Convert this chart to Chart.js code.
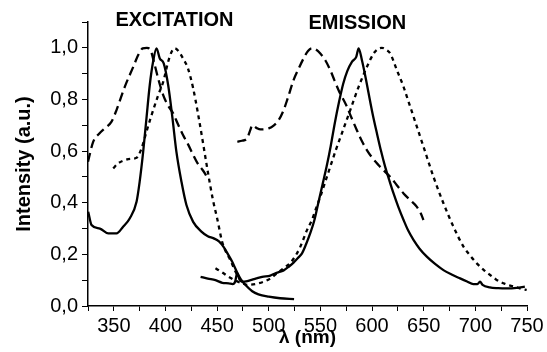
<!DOCTYPE html>
<html>
<head>
<meta charset="utf-8">
<script src="https://cdn.jsdelivr.net/npm/chart.js@4"></script>
<style>
  html, body { margin: 0; padding: 0; background: #fff; }
  #wrap { width: 547px; height: 352px; position: relative; }
</style>
</head>
<body>
<div id="wrap"><canvas id="spectra"></canvas></div>
<script>
// Excitation spectra (wavelength in nm, normalised intensity)
var exSolidNm = [325.2, 328.4, 336.5, 344.6, 352.6, 359, 365.5, 372, 375, 378.4, 381.6, 384.8, 388, 391.3, 394.5, 398.3, 402.6, 406.8, 410.6, 415.5, 420.3, 426.8, 434.8, 441, 446.7, 451.8, 456.4, 461.3, 464.5, 469.4, 473, 477.5, 484, 490, 500, 511, 524.5];
var exSolidI = [0.365, 0.314, 0.300, 0.281, 0.281, 0.307, 0.340, 0.404, 0.481, 0.597, 0.727, 0.856, 0.946, 0.998, 0.959, 0.940, 0.856, 0.727, 0.597, 0.481, 0.391, 0.326, 0.288, 0.270, 0.262, 0.250, 0.228, 0.195, 0.172, 0.130, 0.103, 0.081, 0.057, 0.045, 0.036, 0.030, 0.027];

var exDashNm = [325, 330, 336, 341.3, 347.8, 352.6, 360.6, 368.8, 373.6, 378, 382, 385, 389.6, 393, 397.8, 402, 407.4, 412, 417, 422, 426.8, 431, 434.8, 438, 441.3];
var exDashI = [0.559, 0.636, 0.668, 0.688, 0.714, 0.759, 0.849, 0.926, 0.972, 0.998, 1.000, 0.995, 0.933, 0.880, 0.817, 0.780, 0.746, 0.705, 0.662, 0.625, 0.585, 0.553, 0.533, 0.515, 0.490];

var exDotNm = [349.4, 354, 360.6, 366, 372, 376.8, 381.6, 386.5, 393, 397.8, 402.6, 406, 409, 413, 417, 421.8, 426.7, 431.5, 436, 441, 446, 450, 454.8, 458.5, 462.8, 467, 471, 476];
var exDotI = [0.533, 0.552, 0.565, 0.570, 0.574, 0.610, 0.675, 0.739, 0.817, 0.868, 0.946, 0.985, 0.998, 0.985, 0.959, 0.920, 0.845, 0.745, 0.640, 0.520, 0.410, 0.340, 0.250, 0.210, 0.178, 0.140, 0.110, 0.085];

// Emission spectra
var emSolidNm = [434, 441, 448.4, 455, 461.3, 465, 467.5, 469.4, 471.5, 474.2, 478, 482.3, 488, 493.6, 501.5, 506.4, 511, 514.4, 519.3, 524, 528, 532.2, 536, 540, 544, 548, 552, 556, 560, 564, 568, 572, 576, 580.5, 584.7, 587, 590.2, 593.5, 596.7, 600.5, 604.7, 608.7, 612.7, 616.7, 620.8, 625.5, 630.5, 635, 640.1, 646, 653, 661, 669.1, 677, 685.2, 692, 698, 702, 704.5, 707, 714, 722, 730.2, 740, 747.9];
var emSolidI = [0.113, 0.106, 0.100, 0.090, 0.088, 0.085, 0.095, 0.127, 0.105, 0.094, 0.095, 0.100, 0.107, 0.113, 0.118, 0.127, 0.133, 0.138, 0.152, 0.168, 0.185, 0.204, 0.238, 0.280, 0.330, 0.400, 0.470, 0.540, 0.620, 0.710, 0.790, 0.860, 0.910, 0.946, 0.965, 0.998, 0.952, 0.890, 0.823, 0.745, 0.669, 0.600, 0.539, 0.487, 0.436, 0.383, 0.333, 0.292, 0.256, 0.222, 0.191, 0.163, 0.139, 0.122, 0.107, 0.095, 0.085, 0.085, 0.094, 0.082, 0.072, 0.069, 0.068, 0.070, 0.075];

var emDashNm = [469.6, 474, 479, 482, 484, 488, 492, 500, 505, 509.6, 514.4, 518, 524, 529, 533.7, 538, 541.8, 545, 549.9, 555, 559.5, 563.5, 567.6, 575.7, 580, 585.3, 590, 595, 600, 606.2, 612, 617.6, 624, 630.5, 637, 643.4, 647, 649.8];
var emDashI = [0.636, 0.640, 0.649, 0.680, 0.700, 0.690, 0.684, 0.688, 0.700, 0.720, 0.759, 0.800, 0.875, 0.920, 0.959, 0.988, 0.998, 0.995, 0.978, 0.950, 0.914, 0.875, 0.836, 0.772, 0.730, 0.681, 0.640, 0.604, 0.575, 0.546, 0.522, 0.500, 0.468, 0.436, 0.410, 0.384, 0.360, 0.333];

var emDotNm = [448.4, 455, 461.3, 468, 474, 480, 487, 495, 501, 508, 515, 521, 526, 530.6, 537, 541.8, 545.5, 549.9, 555, 559.5, 565, 570.8, 578.9, 587, 595, 601.5, 605.5, 609.6, 613.5, 617.6, 624, 630.5, 635, 640.2, 649.8, 659.5, 669.1, 678.8, 688.5, 695, 701.4, 708, 714.3, 720, 727.2, 733, 740, 745, 749.7];
var emDotI = [0.146, 0.130, 0.113, 0.098, 0.088, 0.082, 0.085, 0.094, 0.105, 0.127, 0.148, 0.168, 0.195, 0.230, 0.294, 0.333, 0.375, 0.423, 0.485, 0.539, 0.605, 0.669, 0.759, 0.849, 0.926, 0.978, 0.995, 1.000, 0.993, 0.978, 0.914, 0.849, 0.795, 0.733, 0.617, 0.500, 0.398, 0.307, 0.230, 0.195, 0.165, 0.140, 0.120, 0.103, 0.088, 0.080, 0.072, 0.066, 0.062];

// axis ticks
var xTickStep = 25;   // labelled every 50 nm
var yTickStep = 0.1;  // labelled every 0.2

function toPoints(nm, vals) {
  return nm.map(function (x, i) { return { x: x, y: vals[i] }; });
}

function line(nm, vals, dash) {
  return {
    data: toPoints(nm, vals),
    borderColor: "#000",
    borderWidth: 2.3,
    borderDash: dash,
    pointRadius: 0,
    fill: false,
    cubicInterpolationMode: "monotone",
  };
}

var FONT = "'Liberation Sans', Arial, sans-serif";

// EXCITATION / EMISSION headings
var sectionLabels = {
  id: "sectionLabels",
  afterDraw: function (chart) {
    var ctx = chart.ctx;
    var xs = chart.scales.x;
    var ys = chart.scales.y;
    var items = [
      { text: "EXCITATION", x: 408.7, y: 1.107 },
      { text: "EMISSION", x: 585.7, y: 1.094 },
    ];
    ctx.save();
    ctx.fillStyle = "#000";
    ctx.font = "bold 20px " + FONT;
    ctx.textAlign = "center";
    ctx.textBaseline = "middle";
    items.forEach(function (it) {
      ctx.fillText(it.text, xs.getPixelForValue(it.x), ys.getPixelForValue(it.y));
    });
    ctx.restore();
  },
};

document.addEventListener("DOMContentLoaded", function () {
  var ctx = document.getElementById("spectra").getContext("2d");

  new Chart(ctx, {
    type: "line",
    data: {
      datasets: [
        line(exSolidNm, exSolidI, []),
        line(exDashNm, exDashI, [9, 5]),
        line(exDotNm, exDotI, [4, 4]),
        line(emSolidNm, emSolidI, []),
        line(emDashNm, emDashI, [9, 5]),
        line(emDotNm, emDotI, [4, 4]),
      ],
    },
    options: {
      responsive: true,
      maintainAspectRatio: false,
      animation: false,
      layout: { padding: { left: 0, right: 20, top: 22, bottom: 0 } },
      plugins: {
        legend: { display: false },
        tooltip: { enabled: false },
      },
      scales: {
        x: {
          type: "linear",
          min: 325,
          max: 750,
          afterFit: function (scale) { scale.height = 46; },
          border: { display: true, color: "#000", width: 1.5 },
          grid: { drawOnChartArea: false, drawTicks: true, tickLength: 5, color: "#000" },
          ticks: {
            stepSize: xTickStep,
            autoSkip: false,
            maxRotation: 0,
            padding: 3,
            color: "#000",
            font: { family: FONT, size: 20 },
            callback: function (v) { return v % 50 === 0 ? String(v) : ""; },
          },
          title: {
            display: true,
            text: "λ (nm)",
            color: "#000",
            font: { family: FONT, size: 19, weight: "bold" },
            padding: { top: 0, bottom: 3 },
          },
        },
        y: {
          min: 0,
          max: 1.1,
          afterFit: function (scale) { scale.width = 88; },
          border: { display: true, color: "#000", width: 1.5 },
          grid: { drawOnChartArea: false, drawTicks: true, tickLength: 6, color: "#000" },
          ticks: {
            stepSize: yTickStep,
            autoSkip: false,
            padding: 4,
            color: "#000",
            font: { family: FONT, size: 20 },
            callback: function (v) {
              var k = Math.round(v * 10);
              return k % 2 === 0 ? (k / 10).toFixed(1).replace(".", ",") : "";
            },
          },
          title: {
            display: true,
            text: "Intensity (a.u.)",
            color: "#000",
            font: { family: FONT, size: 20, weight: "bold" },
            padding: { top: 12, bottom: 0 },
          },
        },
      },
    },
    plugins: [sectionLabels],
  });
});
</script>
</body>
</html>
